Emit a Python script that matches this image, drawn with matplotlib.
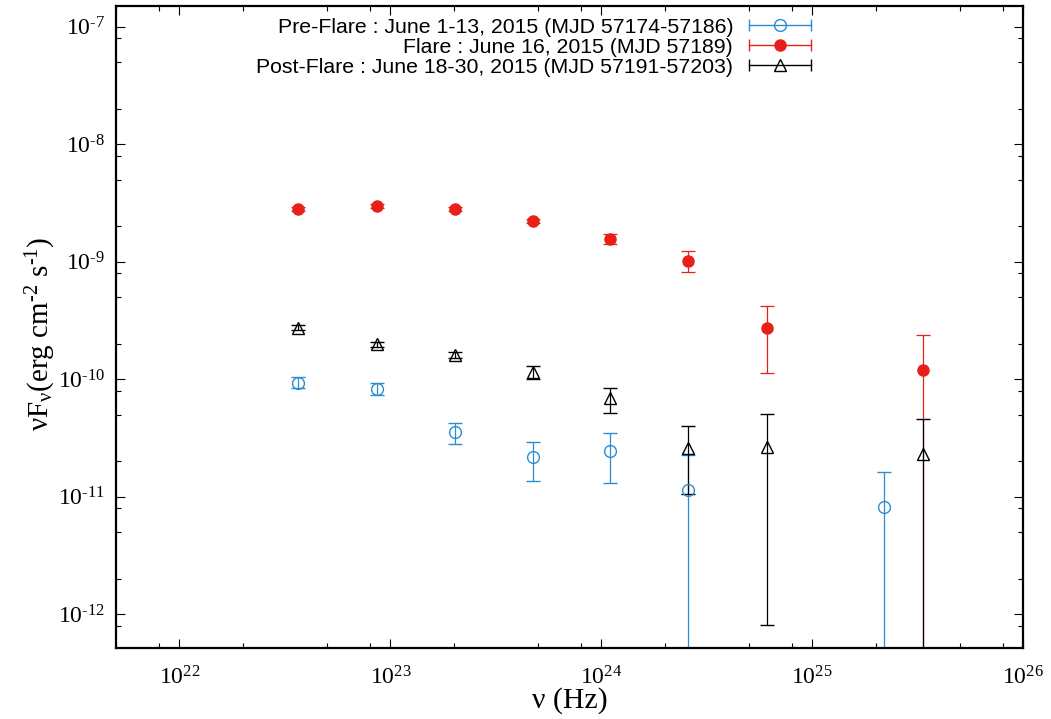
import numpy as np
import matplotlib
matplotlib.use("Agg")
import matplotlib.pyplot as plt
from matplotlib.ticker import LogLocator, NullFormatter, FuncFormatter
from matplotlib.legend_handler import HandlerBase
from matplotlib.container import ErrorbarContainer
from matplotlib.lines import Line2D

plt.rcParams["font.family"] = "Liberation Serif"
plt.rcParams["mathtext.fontset"] = "custom"
plt.rcParams["mathtext.rm"] = "Liberation Serif"
plt.rcParams["mathtext.it"] = "Liberation Serif:italic"
plt.rcParams["axes.unicode_minus"] = False

# 주파수 (Hz)
nu_pre = [3.66e22, 8.68e22, 2.03e23, 4.76e23, 1.10e24, 2.58e24, 2.19e25]
nu_flare = [3.66e22, 8.68e22, 2.03e23, 4.76e23, 1.10e24, 2.58e24, 6.12e24, 3.36e25]
nu_post = [3.66e22, 8.68e22, 2.03e23, 4.76e23, 1.10e24, 2.58e24, 6.12e24, 3.36e25]

# nuFnu 값과 오차 하한/상한 (erg cm^-2 s^-1), 하한 1e-15 는 음수 플럭스 -> 바닥까지
f_pre = [9.33e-11, 8.20e-11, 3.57e-11, 2.17e-11, 2.44e-11, 1.15e-11, 8.15e-12]
lo_pre = [8.35e-11, 7.29e-11, 2.79e-11, 1.37e-11, 1.31e-11, 1e-15, 1e-15]
hi_pre = [1.04e-10, 9.22e-11, 4.26e-11, 2.93e-11, 3.50e-11, 2.26e-11, 1.63e-11]

f_flare = [2.82e-9, 2.99e-9, 2.82e-9, 2.23e-9, 1.56e-9, 1.02e-9, 2.73e-10, 1.20e-10]
lo_flare = [2.70e-9, 2.88e-9, 2.70e-9, 2.13e-9, 1.42e-9, 8.24e-10, 1.13e-10, 1e-15]
hi_flare = [2.94e-9, 3.10e-9, 2.94e-9, 2.33e-9, 1.73e-9, 1.23e-9, 4.23e-10, 2.38e-10]

f_post = [2.75e-10, 1.98e-10, 1.61e-10, 1.14e-10, 6.95e-11, 2.58e-11, 2.64e-11, 2.32e-11]
lo_post = [2.62e-10, 1.88e-10, 1.52e-10, 1.00e-10, 5.18e-11, 1.06e-11, 8.05e-13, 1e-15]
hi_post = [2.88e-10, 2.08e-10, 1.70e-10, 1.29e-10, 8.45e-11, 3.99e-11, 5.06e-11, 4.58e-11]

labels = ["Pre-Flare : June 1-13, 2015 (MJD 57174-57186)",
          "Flare : June 16, 2015 (MJD 57189)",
          "Post-Flare : June 18-30, 2015 (MJD 57191-57203)"]

BLUE = "#2b8cd0"
RED = "#e8201a"
BLACK = "#000000"


def yerr(f, lo, hi):
    f = np.array(f)
    return [f - np.array(lo), np.array(hi) - f]


def pow10(v, pos):
    # 지수 부호는 하이픈으로 표시
    e = int(round(np.log10(v)))
    s = r"\text{-}" + str(-e) if e < 0 else str(e)
    return r"$10^{%s}$" % s


# gnuplot 스타일 범례: 가로선 + 양끝 캡 + 가운데 심볼
class KeyHandler(HandlerBase):
    def create_artists(self, legend, orig_handle, xdescent, ydescent,
                       width, height, fontsize, trans):
        dl = orig_handle.lines[0]
        c = orig_handle.lines[2][0].get_color()[0]
        y = (height - ydescent) / 2
        x0, x1 = -xdescent, width - xdescent
        bar = Line2D([x0, x1], [y, y], color=c, lw=1.0)
        caps = Line2D([x0, x1], [y, y], ls="none", marker="|", ms=9,
                      mew=1.0, color=c)
        dot = Line2D([(x0 + x1) / 2], [y], ls="none", marker=dl.get_marker(),
                     ms=dl.get_markersize(), mfc=dl.get_markerfacecolor(),
                     mec=dl.get_markeredgecolor(), mew=dl.get_markeredgewidth())
        for a in (bar, caps, dot):
            a.set_transform(trans)
        return [bar, caps, dot]


fig = plt.figure(figsize=(10.51, 7.19), dpi=100)
ax = fig.add_axes([116 / 1051, 1 - 648 / 719, 907 / 1051, 642 / 719])

kw = dict(capsize=5, elinewidth=0.9, capthick=0.9, ls="none")
h1 = ax.errorbar(nu_pre, f_pre, yerr=yerr(f_pre, lo_pre, hi_pre), fmt="o",
                 color=BLUE, mfc="none", mec=BLUE, ms=8.5, mew=1.0,
                 label=labels[0], **kw)
h2 = ax.errorbar(nu_flare, f_flare, yerr=yerr(f_flare, lo_flare, hi_flare), fmt="o",
                 color=RED, mfc=RED, mec=RED, ms=8, label=labels[1], **kw)
h3 = ax.errorbar(nu_post, f_post, yerr=yerr(f_post, lo_post, hi_post), fmt="^",
                 color=BLACK, mfc="none", mec=BLACK, ms=8, mew=1.0,
                 label=labels[2], **kw)

ax.set_xscale("log")
ax.set_yscale("log")
ax.set_xlim(5e21, 1e26)
ax.set_ylim(5.15e-13, 1.5e-7)

for axis in (ax.xaxis, ax.yaxis):
    axis.set_major_locator(LogLocator(base=10, numticks=20))
    axis.set_major_formatter(FuncFormatter(pow10))
    axis.set_minor_locator(LogLocator(base=10, subs=[2, 5, 8], numticks=20))
    axis.set_minor_formatter(NullFormatter())

ax.tick_params(which="both", direction="in", top=True, right=True,
               width=0.8, labelsize=17, pad=8)
ax.tick_params(axis="x", which="major", pad=13)
ax.tick_params(which="major", length=6.5)
ax.tick_params(which="minor", length=3.5)
for s in ax.spines.values():
    s.set_linewidth(1.6)

ax.set_xlabel("ν (Hz)", fontsize=21.5)
ax.set_ylabel(r"νF$_{\mathrm{ν}}$(erg cm$^{\text{-}2}$ s$^{\text{-}1}$)", fontsize=21)
ax.xaxis.set_label_coords(0.5, -0.061)
ax.yaxis.set_label_coords(-0.064, 0.49)

leg = ax.legend(handles=[h1, h2, h3], loc="upper right",
                bbox_to_anchor=(0.766, 0.982), frameon=False,
                markerfirst=False, handlelength=2.9, handletextpad=0.75,
                labelspacing=0.05, borderpad=0, borderaxespad=0,
                prop={"family": "Liberation Sans", "size": 15.3},
                handler_map={ErrorbarContainer: KeyHandler()})

fig.savefig("out.png", dpi=100)
